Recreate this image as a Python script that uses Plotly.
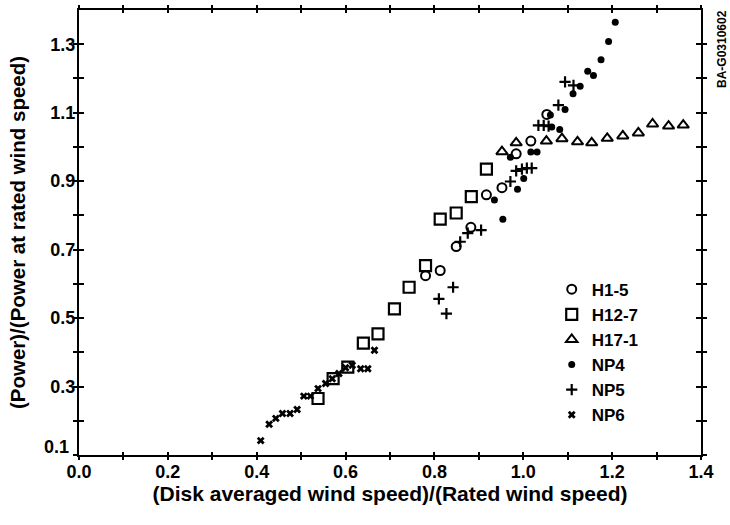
import plotly.graph_objects as go

# Normalised power curves: power / rated power vs disk-averaged / rated wind speed
h1_5_x = [0.780, 0.813, 0.849, 0.882, 0.917, 0.952, 0.984, 1.017, 1.053]
h1_5_y = [0.624, 0.639, 0.709, 0.765, 0.860, 0.881, 0.980, 1.017, 1.095]

h12_7_x = [0.538, 0.572, 0.605, 0.640, 0.673, 0.710, 0.743, 0.780, 0.813, 0.849, 0.883, 0.917]
h12_7_y = [0.265, 0.323, 0.357, 0.427, 0.454, 0.527, 0.590, 0.653, 0.789, 0.807, 0.855, 0.935]

h17_1_x = [0.952, 0.984, 1.052, 1.087, 1.122, 1.154, 1.189, 1.224, 1.259, 1.291, 1.327, 1.360]
h17_1_y = [0.986, 1.012, 1.017, 1.024, 1.015, 1.012, 1.025, 1.032, 1.041, 1.067, 1.061, 1.064]

np4_x = [0.935, 0.954, 0.971, 0.987, 1.001, 1.017, 1.031, 1.061, 1.064, 1.082, 1.094,
         1.112, 1.128, 1.145, 1.158, 1.175, 1.192, 1.207]
np4_y = [0.845, 0.789, 0.970, 0.876, 0.908, 0.985, 0.985, 1.093, 1.058, 1.051, 1.109,
         1.155, 1.177, 1.221, 1.209, 1.255, 1.308, 1.364]

np5_x = [0.810, 0.827, 0.842, 0.858, 0.875, 0.905, 0.971, 0.984, 0.997, 1.008, 1.019,
         1.034, 1.046, 1.057, 1.079, 1.094, 1.113]
np5_y = [0.556, 0.513, 0.590, 0.723, 0.748, 0.757, 0.899, 0.930, 0.935, 0.938, 0.938,
         1.063, 1.063, 1.061, 1.122, 1.190, 1.180]

np6_x = [0.409, 0.428, 0.443, 0.458, 0.475, 0.491, 0.506, 0.521, 0.538, 0.555, 0.570,
         0.585, 0.600, 0.615, 0.634, 0.650, 0.665]
np6_y = [0.142, 0.190, 0.207, 0.221, 0.221, 0.233, 0.272, 0.272, 0.294, 0.309, 0.323,
         0.338, 0.355, 0.362, 0.352, 0.352, 0.406]

x_tick_vals = [0.0, 0.2, 0.4, 0.6, 0.8, 1.0, 1.2, 1.4]
x_tick_text = ["0.0", "0.2", "0.4", "0.6", "0.8", "1.0", "1.2", "1.4"]
y_tick_vals = [0.1, 0.3, 0.5, 0.7, 0.9, 1.1, 1.3]
y_tick_text = ["0.1", "0.3", "0.5", "0.7", "0.9", "1.1", "1.3"]
x_minor_vals = [0.1, 0.3, 0.5, 0.7, 0.9, 1.1, 1.3]
y_minor_vals = [0.2, 0.4, 0.6, 0.8, 1.0, 1.2]

FONT = "Liberation Sans"
INK = "black"
X_RANGE = [0, 1.4]
Y_RANGE = [0.1, 1.4]

series = [
    ("H1-5", h1_5_x, h1_5_y, dict(symbol="circle-open", size=9, color=INK, line=dict(width=2, color=INK))),
    ("H12-7", h12_7_x, h12_7_y, dict(symbol="square-open", size=11, color=INK, line=dict(width=2.2, color=INK))),
    ("H17-1", h17_1_x, h17_1_y, dict(symbol="triangle-up-open", size=10, color=INK, line=dict(width=2, color=INK))),
    ("NP4", np4_x, np4_y, dict(symbol="circle", size=7, color=INK)),
    ("NP5", np5_x, np5_y, dict(symbol="cross-thin-open", size=8, color=INK, line=dict(width=2.2, color=INK))),
    ("NP6", np6_x, np6_y, dict(symbol="x", size=7, color=INK, line=dict(width=0))),
]

fig = go.Figure()
for name, xs, ys, marker in series:
    fig.add_trace(go.Scatter(x=xs, y=ys, mode="markers", name=name, marker=marker))

# transparent traces that carry the overlay tick axes (inner and outer tick marks)
for xa, ya in (("x2", "y2"), ("x3", "y3")):
    fig.add_trace(go.Scatter(x=[0.7], y=[0.7], xaxis=xa, yaxis=ya, mode="markers",
                             marker=dict(opacity=0), showlegend=False, hoverinfo="skip"))

tick_font = dict(family=FONT, size=18, color=INK, weight="bold")

all_x_ticks = sorted(x_tick_vals + x_minor_vals)
all_y_ticks = sorted(y_tick_vals + y_minor_vals)

# the lowest y label sits raised above the corner so it clears the "0.0" label
y_axis_text = ["" if v == Y_RANGE[0] else t for v, t in zip(y_tick_vals, y_tick_text)]


def tick_axis(overlay, rng, vals, side, length):
    return dict(overlaying=overlay, range=rng, tickmode="array", tickvals=vals,
                ticks=side, ticklen=length, tickwidth=2, tickcolor=INK,
                mirror="allticks", showline=False, showticklabels=False,
                showgrid=False, zeroline=False)


fig.update_layout(
    width=730, height=525,
    margin=dict(l=79, r=29, t=8, b=70),
    paper_bgcolor="white", plot_bgcolor="white",
    font=dict(family=FONT, color=INK),
    xaxis=dict(range=X_RANGE, tickmode="array", tickvals=x_tick_vals, ticktext=x_tick_text,
               ticks="", showline=True, linewidth=2, linecolor=INK, mirror=True,
               showgrid=False, zeroline=False, tickfont=tick_font, ticklabelstandoff=-1,
               title=dict(text="(Disk averaged wind speed)/(Rated wind speed)",
                          font=dict(family=FONT, size=21, color=INK, weight="bold"), standoff=4)),
    yaxis=dict(range=Y_RANGE, tickmode="array", tickvals=y_tick_vals, ticktext=y_axis_text,
               ticks="", showline=True, linewidth=2, linecolor=INK, mirror=True,
               showgrid=False, zeroline=False, tickfont=tick_font, ticklabelstandoff=-2,
               title=dict(text="(Power)/(Power at rated wind speed)",
                          font=dict(family=FONT, size=20.5, color=INK, weight="bold"), standoff=19)),
    xaxis2=tick_axis("x", X_RANGE, all_x_ticks, "inside", 3),
    yaxis2=tick_axis("y", Y_RANGE, all_y_ticks, "inside", 5),
    xaxis3=tick_axis("x", X_RANGE, all_x_ticks, "outside", 4),
    yaxis3=tick_axis("y", Y_RANGE, all_y_ticks, "outside", 5),
    legend=dict(x=0.76, y=0.412, xanchor="left", yanchor="top",
                bgcolor="rgba(0,0,0,0)", borderwidth=0,
                font=dict(family=FONT, size=17, color=INK, weight="bold"),
                itemwidth=30),
    showlegend=True,
)

fig.add_annotation(text=y_tick_text[0], xref="paper", yref="y",
                   x=0, y=y_tick_vals[0], xanchor="right", yanchor="middle",
                   xshift=-8, yshift=8, showarrow=False, font=tick_font)

fig.add_annotation(text="BA-G0310602", xref="paper", yref="paper",
                   x=1.0, y=1.0, xshift=21, yshift=-39, textangle=-90,
                   xanchor="center", yanchor="middle",
                   showarrow=False, font=dict(family=FONT, size=12, color=INK, weight="bold"))

fig.write_html("out.html")
